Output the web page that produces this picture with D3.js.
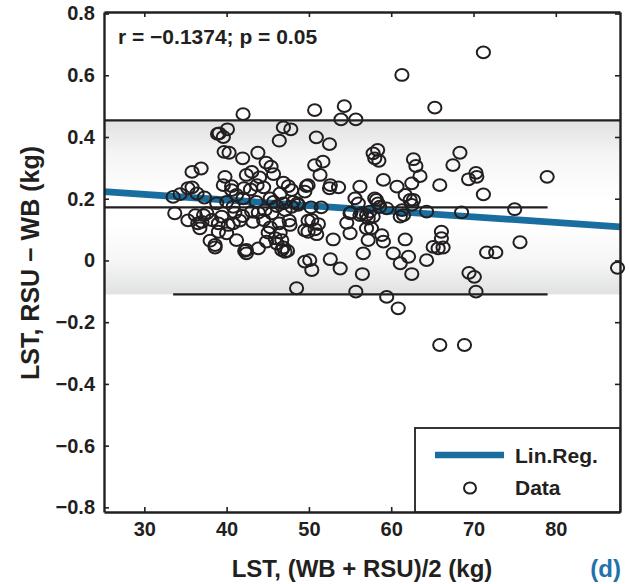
<!DOCTYPE html>
<html><head><meta charset="utf-8">
<script src="https://cdn.jsdelivr.net/npm/d3@7"></script>
<style>
body{margin:0;background:#fff}
text{font-family:"Liberation Sans",Arial,Helvetica,sans-serif;font-weight:bold;fill:#231f20}
</style>
</head><body>
<svg id="c" width="630" height="584"></svg>
<script>
// ---- data (mean of methods, difference) ----
const meanKg = [
 42.0,50.7,54.3,53.9,55.7,65.3,61.3,71.2,
 39.1,38.9,39.6,40.1,39.7,40.3,41.95,43.8,44.8,45.4,46.9,47.8,46.4,36.9,35.8,50.9,52.5,
 57.8,58.35,58.0,58.5,62.7,63.0,68.35,67.5,50.7,51.7,
 33.5,33.7,34.35,35.3,35.8,36.4,37.3,39.8,39.6,40.6,
 36.2,37.0,37.6,38.2,39.0,39.4,40.2,36.75,39.0,40.0,38.0,38.6,38.6,37.2,35.3,36.5,
 41.2,42.2,42.4,43.85,44.85,46.1,46.7,47.1,47.7,42.4,45.05,45.9,46.7,46.9,47.4,49.5,
 42.4,43.05,44.0,45.7,46.9,47.5,46.5,42.1,42.9,43.7,44.5,40.6,41.2,45.3,48.6,49.5,49.7,47.9,
 41.0,41.95,43.05,43.85,44.65,45.5,46.1,47.1,47.9,48.7,40.8,41.6,43.2,44.5,45.3,46.4,46.5,47.6,
 38.8,40.0,40.8,42.0,43.6,45.7,46.9,48.1,
 49.9,51.35,52.6,52.5,53.6,56.2,55.6,58.0,58.4,59.05,60.7,62.5,63.5,61.7,62.7,62.5,65.9,56.0,
 51.5,50.25,55.1,56.4,57.4,57.8,57.2,59.45,61.1,61.5,64.3,68.55,
 50.35,51.15,50.75,49.9,50.95,49.9,54.6,55.0,52.95,57.0,57.6,57.2,58.85,59.05,61.7,
 66.1,66.1,65.1,65.7,66.3,56.6,60.25,62.1,61.1,64.3,50.1,50.35,52.6,53.8,56.5,62.5,
 55.7,59.45,60.85,65.9,49.5,48.5,
 58.2,58.6,55.0,56.2,57.0,61.3,62.3,
 70.3,70.4,69.4,78.95,71.2,75.0,75.65,71.6,72.7,69.45,70.1,70.3,87.5,68.9
];
const diffKg = [
 0.474,0.487,0.500,0.457,0.457,0.495,0.601,0.674,
 0.412,0.410,0.400,0.425,0.352,0.349,0.331,0.349,0.317,0.304,0.431,0.425,0.388,0.298,0.287,0.399,0.377,
 0.347,0.358,0.331,0.323,0.328,0.306,0.349,0.309,0.309,0.320,
 0.206,0.153,0.215,0.234,0.237,0.217,0.204,0.271,0.244,0.241,
 0.147,0.125,0.153,0.131,0.120,0.142,0.115,0.104,0.093,0.088,0.064,0.050,0.042,0.147,0.130,0.120,
 0.066,0.031,0.023,0.039,0.061,0.055,0.034,0.028,0.115,0.034,0.090,0.072,0.066,0.042,0.031,0.098,
 0.277,0.287,0.269,0.280,0.252,0.241,0.217,0.234,0.230,0.244,0.237,0.228,0.212,0.201,0.185,0.223,0.241,0.228,
 0.155,0.144,0.158,0.155,0.163,0.153,0.176,0.163,0.174,0.180,0.120,0.129,0.125,0.131,0.107,0.120,0.090,0.129,
 0.185,0.190,0.174,0.201,0.190,0.190,0.185,0.190,
 0.244,0.277,0.244,0.234,0.237,0.239,0.201,0.201,0.185,0.261,0.239,0.250,0.273,0.212,0.196,0.180,0.244,0.185,
 0.172,0.172,0.155,0.153,0.158,0.142,0.136,0.169,0.142,0.147,0.158,0.156,
 0.131,0.118,0.101,0.093,0.085,0.129,0.122,0.088,0.068,0.104,0.104,0.066,0.082,0.061,0.068,
 0.093,0.072,0.044,0.039,0.042,0.023,0.023,0.012,-0.009,0.001,0.001,-0.031,0.004,-0.026,-0.044,-0.044,
 -0.101,-0.118,-0.155,-0.274,-0.004,-0.090,
 0.196,0.174,0.153,0.147,0.147,0.163,0.196,
 0.284,0.271,0.263,0.271,0.214,0.166,0.059,0.026,0.026,-0.040,-0.053,-0.101,-0.024,-0.274
];
const xTicks = [30,40,50,60,70,80];
const yTicks = [-0.8,-0.6,-0.4,-0.2,0,0.2,0.4,0.6,0.8];
const limitNames = ["upper","mean","lower"];
const limitValues = [0.454, 0.172, -0.110];
const limitFrom = [25.1, 25.1, 33.5];
const limitTo = [87.8, 79.0, 79.0];
const regX = [25.1, 87.8];
const regY = [0.223, 0.109];
const legendLabels = ["Lin.Reg.", "Data"];

const svg = d3.select("#c");
const L=104, R=620, T=12, B=512;
const x = d3.scaleLinear().domain([25.1, 87.8]).range([L, R]);
const y = d3.scaleLinear().domain([-0.815, 0.805]).range([B, T]);
const ink = "#231f20", blue = "#1a6e9f";

// gradient for limits-of-agreement band
const defs = svg.append("defs");
const g = defs.append("linearGradient").attr("id","band").attr("x1",0).attr("y1",0).attr("x2",0).attr("y2",1);
[[0,"#e0e1e2"],[0.2,"#f5f5f5"],[0.45,"#ffffff"],[0.6,"#ffffff"],[0.82,"#f5f5f5"],[1,"#e0e1e2"]]
  .forEach(([o,c])=>g.append("stop").attr("offset",o).attr("stop-color",c));

svg.append("rect").attr("x",x(25.1)).attr("width",x(87.8)-x(25.1))
  .attr("y",y(limitValues[0])).attr("height",y(limitValues[2])-y(limitValues[0]))
  .attr("fill","url(#band)");

// limit lines
svg.selectAll(".lim").data(limitValues).join("line").attr("class","lim")
  .attr("x1",(d,i)=>x(limitFrom[i])).attr("x2",(d,i)=>x(limitTo[i]))
  .attr("y1",d=>y(d)).attr("y2",d=>y(d))
  .attr("stroke",ink).attr("stroke-width",2.4);

// regression line
svg.append("line").attr("x1",x(regX[0])).attr("x2",x(regX[1]))
  .attr("y1",y(regY[0])).attr("y2",y(regY[1]))
  .attr("stroke",blue).attr("stroke-width",6.8);

// points
svg.append("g").selectAll("ellipse").data(meanKg).join("ellipse")
  .attr("cx",d=>x(d)).attr("cy",(d,i)=>y(diffKg[i]))
  .attr("rx",6.6).attr("ry",5.9)
  .attr("fill","none").attr("stroke",ink).attr("stroke-width",2);

// axes (inward ticks, box)
const fmtY = d => d===0 ? "0" : d3.format(".1f")(d);
const axL = svg.append("g").attr("transform",`translate(${L},0)`)
  .call(d3.axisLeft(y).tickValues(yTicks).tickSizeInner(-5).tickSizeOuter(0).tickPadding(9).tickFormat(fmtY));
const axR = svg.append("g").attr("transform",`translate(${R},0)`)
  .call(d3.axisRight(y).tickValues(yTicks).tickSizeInner(-5).tickSizeOuter(0).tickFormat(""));
const axB = svg.append("g").attr("transform",`translate(0,${B})`)
  .call(d3.axisBottom(x).tickValues(xTicks).tickSizeInner(-5).tickSizeOuter(0).tickPadding(10).tickFormat(d3.format("d")));
const axT = svg.append("g").attr("transform",`translate(0,${T})`)
  .call(d3.axisTop(x).tickValues(xTicks).tickSizeInner(-5).tickSizeOuter(0).tickFormat(""));
[axL,axR,axB,axT].forEach(a=>{
  a.select(".domain").attr("stroke",ink).attr("stroke-width",2.4);
  a.selectAll(".tick line").attr("stroke",ink).attr("stroke-width",1.6);
  a.selectAll("text").attr("font-size",20).attr("font-family","Liberation Sans, Arial, sans-serif")
    .attr("font-weight","bold").attr("fill",ink);
});

// legend
const lg = svg.append("g");
lg.append("rect").attr("x",415).attr("y",428).attr("width",R-415).attr("height",B-428)
  .attr("fill","#fff").attr("stroke",ink).attr("stroke-width",1.8);
lg.append("line").attr("x1",435).attr("x2",504).attr("y1",455).attr("y2",455)
  .attr("stroke",blue).attr("stroke-width",6.5);
lg.append("ellipse").attr("cx",470).attr("cy",488).attr("rx",6).attr("ry",5.6)
  .attr("fill","none").attr("stroke",ink).attr("stroke-width",2);
lg.selectAll("text").data(legendLabels).join("text")
  .attr("x",515).attr("y",(d,i)=>[456,488][i]).attr("dy","0.35em")
  .attr("font-size",21).text(d=>d);

// annotations
svg.append("text").attr("x",118).attr("y",37).attr("dy","0.35em").attr("font-size",21)
  .text("r = \u22120.1374; p = 0.05");
svg.append("text").attr("x",362).attr("y",569).attr("dy","0.35em").attr("text-anchor","middle")
  .attr("font-size",24).text("LST, (WB + RSU)/2 (kg)");
svg.append("text").attr("x",621).attr("y",569).attr("dy","0.35em").attr("text-anchor","end")
  .attr("font-size",24).style("fill","#1f72aa").text("(d)");
svg.append("text").attr("transform","translate(30,263) rotate(-90)").attr("dy","0.35em")
  .attr("text-anchor","middle").attr("font-size",25).text("LST, RSU \u2212 WB (kg)");
</script>
</body></html>
